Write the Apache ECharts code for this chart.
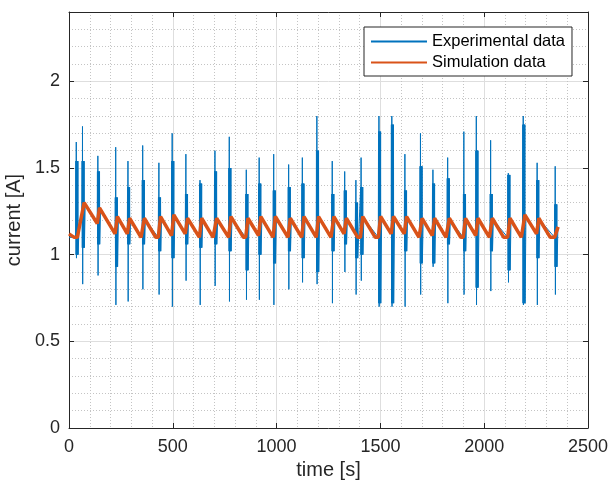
<!DOCTYPE html>
<html><head><meta charset="utf-8">
<script src="https://cdn.jsdelivr.net/npm/echarts@6/dist/echarts.min.js"></script>
<style>html,body{margin:0;padding:0;background:#fff}#c{width:610px;height:487px}</style>
</head><body><div id="c"></div>
<script>
const xTicks = [0, 500, 1000, 1500, 2000, 2500];
const yTicks = [0, 0.5, 1, 1.5, 2];
const seriesNames = ['Experimental data', 'Simulation data'];

const spikeTime = [35,65,139,225,284,355,433,497,563,631,703,772,854,916,986,1058,1124,1194,1268,1328,1382,1407,1493,1555,1618,1693,1753,1824,1902,1962,2031,2116,2188,2255,2342];
const spikeMax  = [1.65,1.74,1.57,1.62,1.54,1.63,1.53,1.70,1.58,1.43,1.60,1.68,1.49,1.56,1.58,1.52,1.56,1.80,1.54,1.48,1.43,1.56,1.80,1.80,1.58,1.70,1.49,1.56,1.71,1.80,1.66,1.47,1.80,1.53,1.51];
const spikeMin  = [0.98,0.83,0.88,0.71,0.73,0.80,0.77,0.70,0.85,0.71,0.82,0.73,0.74,0.74,0.71,0.80,0.84,0.83,0.72,0.90,0.77,0.85,0.70,0.70,0.70,0.77,0.93,0.72,0.77,0.71,0.79,0.84,0.71,0.71,0.77];
const bandHigh  = [1.54,1.54,1.48,1.33,1.39,1.43,1.33,1.54,1.35,1.41,1.48,1.50,1.35,1.41,1.37,1.39,1.41,1.60,1.35,1.37,1.30,1.39,1.71,1.75,1.37,1.51,1.41,1.44,1.35,1.60,1.35,1.46,1.75,1.43,1.29];
const bandLow   = [1.00,1.04,1.06,0.93,1.06,1.06,1.02,0.98,1.06,1.04,1.06,1.02,0.91,1.00,0.95,1.02,0.98,0.90,1.02,1.06,0.98,1.00,0.72,0.72,1.02,0.95,0.95,1.06,1.02,0.81,1.02,0.91,0.72,0.98,0.93];
const levelBefore = [1.10,1.23,1.18,1.12,1.12,1.10,1.10,1.11,1.12,1.10,1.10,1.10,1.10,1.11,1.10,1.10,1.10,1.10,1.10,1.12,1.12,1.10,1.10,1.12,1.12,1.10,1.11,1.10,1.10,1.11,1.10,1.10,1.10,1.12,1.10];
const levelAfter  = [1.15,1.29,1.26,1.21,1.20,1.20,1.21,1.22,1.20,1.20,1.20,1.21,1.20,1.21,1.21,1.20,1.21,1.21,1.21,1.20,1.10,1.21,1.21,1.21,1.21,1.20,1.20,1.20,1.20,1.20,1.20,1.20,1.22,1.20,1.16];

// Simulation data (sawtooth)
const simTime  = [0,25,40,73,136,147,222,233,281,292,347,352,363,418,430,441,494,505,560,571,628,639,694,700,711,769,780,840,851,862,913,924,983,994,1055,1066,1121,1132,1191,1202,1262,1265,1276,1325,1336,1391,1404,1415,1475,1490,1501,1552,1563,1615,1626,1686,1690,1701,1750,1761,1816,1821,1832,1887,1899,1910,1959,1970,2025,2028,2039,2094,2113,2124,2179,2185,2196,2252,2263,2318,2339,2356];
const simValue = [1.12,1.10,1.10,1.30,1.18,1.27,1.12,1.22,1.12,1.21,
 1.10,1.10,1.21,1.10,1.10,1.22,1.11,1.23,1.12,1.21,
 1.10,1.21,1.10,1.10,1.21,1.10,1.22,1.10,1.10,1.21,
 1.11,1.22,1.10,1.22,1.10,1.21,1.10,1.22,1.10,1.22,
 1.10,1.10,1.22,1.12,1.21,1.10,1.10,1.22,1.10,1.10,
 1.22,1.12,1.22,1.12,1.22,1.10,1.10,1.21,1.11,1.21,
 1.10,1.10,1.21,1.10,1.10,1.21,1.11,1.21,1.10,1.10,
 1.21,1.10,1.10,1.21,1.10,1.10,1.23,1.12,1.21,1.10,
 1.10,1.16];

const expData = [[0, levelBefore[0]]];
spikeTime.forEach((t, i) => {
  expData.push([t - 3, levelBefore[i]], [t - 2, bandHigh[i]], [t - 1, bandLow[i]],
    [t, spikeMax[i]], [t + 1, spikeMin[i]], [t + 2, bandHigh[i]], [t + 3, bandLow[i]],
    [t + 5, bandHigh[i]], [t + 6, bandLow[i]], [t + 8, bandHigh[i]], [t + 9, bandLow[i]],
    [t + 13, levelAfter[i]]);
});
const simData = simTime.map((t, i) => [t, simValue[i]]);

const FONT = '"Liberation Sans", Arial, Helvetica, sans-serif';
const AX = '#262626';
const lineStyleAx = { color: AX, width: 1 };
const chart = echarts.init(document.getElementById('c'), null, { renderer: 'canvas' });
const labelFmtY = v => (yTicks.some(t => Math.abs(t - v) < 1e-9) ? String(v) : '');
const labelFmtX = v => (xTicks.includes(v) ? String(v) : '');

chart.setOption({
  animation: false,
  backgroundColor: '#fff',
  grid: { left: 69, top: 12, width: 519, height: 416, containLabel: false, outerBoundsMode: 'none' },
  legend: {
    left: 364, top: 27, orient: 'vertical',
    padding: [6, 7, 5, 6], itemWidth: 56, itemHeight: 14, itemGap: 4,
    backgroundColor: '#fff', borderColor: AX, borderWidth: 1, borderRadius: 0,
    itemStyle: { opacity: 0 },
    textStyle: { fontFamily: FONT, fontSize: 16.5, color: '#000', lineHeight: 17 },
    data: seriesNames
  },
  xAxis: [{
    type: 'value', min: 0, max: 2500, interval: 500, position: 'bottom',
    axisLine: { show: true, onZero: false, lineStyle: lineStyleAx },
    axisTick: { show: true, inside: true, length: 5, lineStyle: lineStyleAx },
    axisLabel: { margin: 10, color: AX, fontSize: 18, fontFamily: FONT, formatter: labelFmtX },
    splitLine: { show: true, lineStyle: { color: '#dedede', width: 1 } },
    minorTick: { show: false, splitNumber: 5 },
    minorSplitLine: { show: true, lineStyle: { color: '#c4c4c4', width: 1, type: [1, 2] } },
    name: 'time [s]', nameLocation: 'middle', nameGap: 26,
    nameTextStyle: { fontSize: 20, color: AX, fontFamily: FONT }
  }, {
    type: 'value', min: 0, max: 2500, interval: 500, position: 'top',
    axisLine: { show: true, onZero: false, lineStyle: lineStyleAx },
    axisTick: { show: true, inside: true, length: 5, lineStyle: lineStyleAx },
    axisLabel: { show: false }, splitLine: { show: false }
  }],
  yAxis: [{
    type: 'value', min: 0, max: 2.4, interval: 0.5, position: 'left',
    axisLine: { show: true, onZero: false, lineStyle: lineStyleAx },
    axisTick: { show: true, inside: true, length: 5, lineStyle: lineStyleAx },
    axisLabel: { margin: 9, color: AX, fontSize: 18, fontFamily: FONT, formatter: labelFmtY, showMaxLabel: false },
    splitLine: { show: true, lineStyle: { color: '#dedede', width: 1 } },
    minorTick: { show: false, splitNumber: 5 },
    minorSplitLine: { show: true, lineStyle: { color: '#c4c4c4', width: 1, type: [1, 2] } },
    name: 'current [A]', nameLocation: 'middle', nameGap: 40, nameRotate: 90,
    nameTextStyle: { fontSize: 20, color: AX, fontFamily: FONT }
  }, {
    type: 'value', min: 0, max: 2.4, interval: 0.5, position: 'right',
    axisLine: { show: true, onZero: false, lineStyle: lineStyleAx },
    axisTick: { show: true, inside: true, length: 5, lineStyle: lineStyleAx },
    axisLabel: { show: false }, splitLine: { show: false }
  }],
  series: [{
    name: seriesNames[0], type: 'line', data: expData, xAxisIndex: 0, yAxisIndex: 0,
    symbol: 'none', showSymbol: false, z: 2,
    lineStyle: { color: '#0072BD', width: 1 }, itemStyle: { color: '#0072BD' }
  }, {
    name: seriesNames[1], type: 'line', data: simData, xAxisIndex: 0, yAxisIndex: 0,
    symbol: 'none', showSymbol: false, z: 3,
    lineStyle: { color: '#D95319', width: 3.5 }, itemStyle: { color: '#D95319' }
  }]
});
</script></body></html>
